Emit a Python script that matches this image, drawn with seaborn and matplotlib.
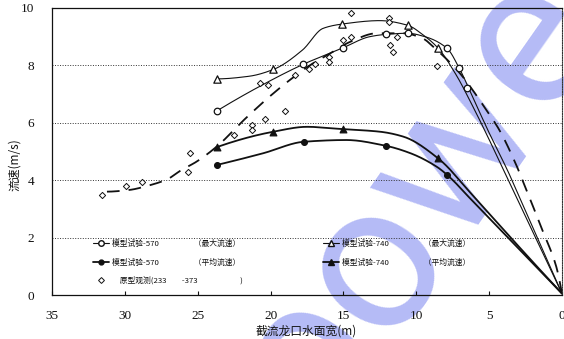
import numpy as np
import pandas as pd
import matplotlib
matplotlib.use("Agg")
import matplotlib.pyplot as plt
from matplotlib.lines import Line2D
import seaborn as sns

# ---- measured points (x: gap width in m, y: velocity in m/s) ----
m570_max_x = [23.7, 17.75, 15.0, 12.1, 10.6, 7.9, 7.05, 6.55]
m570_max_y = [6.41, 8.04, 8.62, 9.08, 9.12, 8.6, 7.9, 7.2]

m740_max_x = [23.7, 19.8, 15.1, 10.6, 8.5]
m740_max_y = [7.53, 7.86, 9.44, 9.4, 8.6]

m570_avg_x = [23.7, 17.7, 12.1, 7.87]
m570_avg_y = [4.53, 5.34, 5.2, 4.18]

m740_avg_x = [23.7, 19.8, 15.05, 8.5]
m740_avg_y = [5.15, 5.67, 5.78, 4.76]

obs_x = [31.6, 29.9, 28.85, 25.65, 25.5, 22.5, 21.3, 21.3, 20.4, 19.0, 20.7, 20.2,
         18.3, 17.35, 16.95, 16.0, 16.0, 15.0, 14.5, 14.5, 11.9, 11.9, 11.8, 11.6,
         11.3, 8.6]
obs_y = [3.48, 3.8, 3.95, 4.3, 4.94, 5.57, 5.92, 5.75, 6.13, 6.42, 7.38, 7.32,
         7.67, 7.86, 8.04, 8.3, 8.13, 8.89, 8.98, 9.82, 9.64, 9.5, 8.71, 8.48,
         9.0, 7.99]

# ---- fitted curves ----
c570_max_x = [23.7, 21.0, 17.75, 15.0, 13.2, 12.1, 10.6, 9.4, 7.9, 7.0, 6.0, 5.0, 3.7, 2.0, 0.0]
c570_max_y = [6.41, 7.2, 8.04, 8.62, 9.0, 9.08, 9.12, 9.0, 8.6, 7.85, 6.75, 5.65, 4.3, 2.35, 0.05]

c740_max_x = [23.7, 21.5, 19.8, 17.8, 16.4, 15.1, 12.5, 10.6, 9.5, 8.5, 7.3, 6.0, 4.0, 2.0, 0.0]
c740_max_y = [7.53, 7.62, 7.86, 8.54, 9.29, 9.44, 9.56, 9.4, 9.05, 8.6, 7.7, 6.45, 4.35, 2.2, 0.05]

c570_avg_x = [23.7, 20.5, 17.7, 14.8, 12.1, 10.4, 8.6, 7.87, 6.0, 4.0, 2.0, 0.0]
c570_avg_y = [4.53, 4.94, 5.34, 5.4, 5.2, 4.94, 4.47, 4.18, 3.2, 2.15, 1.1, 0.05]

c740_avg_x = [23.7, 19.8, 17.5, 15.05, 12.5, 10.9, 8.5, 6.0, 4.0, 2.0, 0.0]
c740_avg_y = [5.15, 5.69, 5.86, 5.78, 5.69, 5.52, 4.76, 3.4, 2.27, 1.15, 0.05]

obs_fit_x = [31.3, 29.7, 28.4, 27.1, 26.1, 25.1, 23.7, 21.6, 19.8, 18.4, 17.1, 15.9,
             14.5, 12.7, 10.9, 9.6, 8.6, 7.1, 6.3, 5.2, 4.3, 3.2, 2.0, 1.3, 0.4, 0.0]
obs_fit_y = [3.6, 3.66, 3.81, 4.03, 4.36, 4.64, 5.17, 6.21, 7.03, 7.6, 8.07, 8.42,
             8.83, 9.12, 9.12, 8.95, 8.54, 7.78, 7.26, 6.45, 5.75, 4.6, 3.1, 2.2, 1.0, 0.05]

x_ticks = [35, 30, 25, 20, 15, 10, 5, 0]
y_ticks = [0, 2, 4, 6, 8, 10]

lbl_570_max = "模型试验-570\u3000\u3000\u3000\u3000\u2002（最大流速）"
lbl_570_avg = "模型试验-570\u3000\u3000\u3000\u3000\u2002（平均流速）"
lbl_obs = "\u3000原型观测(233\u3000\u3000-373\u3000\u3000\u3000\u3000\u3000\u2002)"
lbl_740_max = "模型试验-740\u3000\u3000\u3000\u3000\u2002（最大流速）"
lbl_740_avg = "模型试验-740\u3000\u3000\u3000\u3000\u2002（平均流速）"


def pchip(x, y, xs):
    """Shape-preserving piecewise cubic Hermite interpolation."""
    x = np.asarray(x, float)
    y = np.asarray(y, float)
    o = np.argsort(x)
    x, y = x[o], y[o]
    h = np.diff(x)
    d = np.diff(y) / h
    n = len(x)
    m = np.zeros(n)
    for k in range(1, n - 1):
        if d[k - 1] * d[k] > 0:
            w1 = 2 * h[k] + h[k - 1]
            w2 = h[k] + 2 * h[k - 1]
            m[k] = (w1 + w2) / (w1 / d[k - 1] + w2 / d[k])

    def end(h0, h1, d0, d1):
        v = ((2 * h0 + h1) * d0 - h0 * d1) / (h0 + h1)
        if np.sign(v) != np.sign(d0):
            return 0.0
        if np.sign(d0) != np.sign(d1) and abs(v) > abs(3 * d0):
            return 3 * d0
        return v

    m[0] = end(h[0], h[1], d[0], d[1])
    m[-1] = end(h[-1], h[-2], d[-1], d[-2])
    idx = np.clip(np.searchsorted(x, xs) - 1, 0, n - 2)
    t = (xs - x[idx]) / h[idx]
    h00 = 2 * t**3 - 3 * t**2 + 1
    h10 = t**3 - 2 * t**2 + t
    h01 = -2 * t**3 + 3 * t**2
    h11 = t**3 - t**2
    return h00 * y[idx] + h10 * h[idx] * m[idx] + h01 * y[idx + 1] + h11 * h[idx] * m[idx + 1]


def smooth(cx, cy, num=400):
    xs = np.linspace(min(cx), max(cx), num)
    return pd.DataFrame({"x": xs, "y": pchip(cx, cy, xs)})


sns.set_theme(style="white")
plt.rcParams["font.family"] = ["Liberation Serif", "Noto Sans CJK SC", "DejaVu Sans"]
plt.rcParams["axes.unicode_minus"] = False
cjk = ["Noto Sans CJK SC", "DejaVu Sans"]

fig = plt.figure(figsize=(5.64, 3.39), dpi=100)
ax = fig.add_axes([52 / 564, 1 - 295 / 339, 510 / 564, 287 / 339])

# faint watermark behind the plot
ax.text(0.735, 0.42, "powe", transform=fig.transFigure, rotation=55, fontsize=150,
        color="#b5bbf6", ha="center", va="center", zorder=0.3, clip_on=False,
        family="Roboto", fontweight="normal")

ink = "#111111"
thin, thick = 0.8, 1.3

sns.lineplot(data=smooth(c570_max_x, c570_max_y), x="x", y="y", ax=ax, color=ink,
             lw=thin, sort=False, estimator=None)
sns.lineplot(data=smooth(c740_max_x, c740_max_y), x="x", y="y", ax=ax, color=ink,
             lw=thin, sort=False, estimator=None)
sns.lineplot(data=smooth(c570_avg_x, c570_avg_y), x="x", y="y", ax=ax, color=ink,
             lw=thick, sort=False, estimator=None)
sns.lineplot(data=smooth(c740_avg_x, c740_avg_y), x="x", y="y", ax=ax, color=ink,
             lw=thick, sort=False, estimator=None)
sns.lineplot(data=smooth(obs_fit_x, obs_fit_y), x="x", y="y", ax=ax, color=ink,
             lw=1.3, sort=False, estimator=None, linestyle=(0, (7, 5)))

sns.scatterplot(x=m570_max_x, y=m570_max_y, ax=ax, marker="o", s=22,
                facecolor="white", edgecolor=ink, linewidth=0.9, zorder=4)
sns.scatterplot(x=m740_max_x, y=m740_max_y, ax=ax, marker="^", s=28,
                facecolor="white", edgecolor=ink, linewidth=0.9, zorder=4)
sns.scatterplot(x=m570_avg_x, y=m570_avg_y, ax=ax, marker="o", s=18,
                facecolor=ink, edgecolor=ink, linewidth=0.8, zorder=4)
sns.scatterplot(x=m740_avg_x, y=m740_avg_y, ax=ax, marker="^", s=24,
                facecolor=ink, edgecolor=ink, linewidth=0.8, zorder=4)
sns.scatterplot(x=obs_x, y=obs_y, ax=ax, marker="D", s=10,
                facecolor="white", edgecolor=ink, linewidth=0.7, zorder=4)

ax.set_xlim(35, 0)
ax.set_ylim(0, 10)
ax.set_xticks(x_ticks)
ax.set_xticklabels([str(v) for v in x_ticks])
ax.set_yticks(y_ticks)
ax.set_yticklabels([str(v) for v in y_ticks])
ax.tick_params(axis="x", direction="in", length=3, width=0.8, pad=10.5,
               labelsize=9.5, colors=ink, bottom=True)
ax.tick_params(axis="y", length=0, pad=13, labelsize=9.5, colors=ink)

for yv in y_ticks[1:-1]:
    ax.axhline(yv, color="#333333", lw=0.7, ls=(0, (1, 1.6)), zorder=1)

for side in ["left", "bottom", "top"]:
    ax.spines[side].set_color(ink)
    ax.spines[side].set_linewidth(0.9)
ax.spines["right"].set_color("#333333")
ax.spines["right"].set_linewidth(0.8)
ax.spines["right"].set_linestyle((0, (1, 1.2)))

ax.set_xlabel("截流龙口水面宽(m)", family=cjk, fontsize=8.5, color=ink)
ax.set_ylabel("流速(m/s)", family=cjk, fontsize=8.5, color=ink)
ax.xaxis.set_label_coords((306 - 52) / 510, -(325 - 295) / 287)
ax.yaxis.set_label_coords(-(52 - 21) / 510, (295 - 165) / 287)

handles = [
    Line2D([], [], color=ink, lw=thin, marker="o", ms=4, mfc="white", mec=ink),
    Line2D([], [], color=ink, lw=thick, marker="o", ms=3.5, mfc=ink, mec=ink),
    Line2D([], [], ls="none", marker="D", ms=3.0, mfc="white", mec=ink, mew=0.7),
    Line2D([], [], color=ink, lw=thin, marker="^", ms=4.5, mfc="white", mec=ink),
    Line2D([], [], color=ink, lw=thick, marker="^", ms=4.5, mfc=ink, mec=ink),
]
labels = [lbl_570_max, lbl_570_avg, lbl_obs, lbl_740_max, lbl_740_avg]
leg = ax.legend(handles, labels, ncol=2, frameon=False, loc="upper left",
                bbox_to_anchor=(93 / 564, 1 - 240 / 339), bbox_transform=fig.transFigure,
                prop={"family": cjk, "size": 5.6}, handlelength=2.0, handletextpad=0.4,
                labelspacing=1.3, columnspacing=10.4, borderpad=0, borderaxespad=0,
                numpoints=1)
for t in leg.get_texts():
    t.set_color(ink)

fig.savefig("out.png", dpi=100)
